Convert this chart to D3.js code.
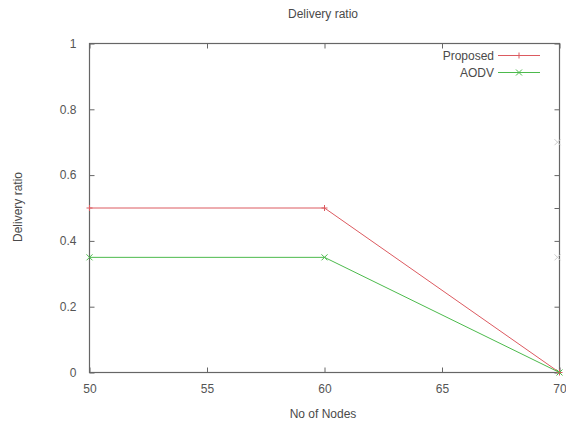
<!DOCTYPE html>
<html>
<head>
<meta charset="utf-8">
<script src="https://cdn.jsdelivr.net/npm/d3@7"></script>
<style>
body { margin: 0; background: #fff; }
text { font-family: "Liberation Sans", Arial, sans-serif; fill: #4a4a4a; }
</style>
</head>
<body>
<div id="chart"></div>
<script>
// data
var nodes = [50, 60, 70];
var proposed = [0.5, 0.5, 0];
var aodv = [0.35, 0.35, 0];
var xTicks = [50, 55, 60, 65, 70];
var yTicks = [0, 0.2, 0.4, 0.6, 0.8, 1];
var rightTicks = [0, 0.2, 0.4, 0.5, 0.6, 0.8, 1];
var rightMarks = [0.7, 0.35];   // faint stray marks on the right border
var seriesNames = ["Proposed", "AODV"];
var seriesColors = ["#dc5a60", "#4cba4c"];

var width = 566, height = 423;
var plotLeft = 89.5, plotRight = 559.5, plotTop = 43.5, plotBottom = 372.5;

var svg = d3.select("#chart").append("svg")
    .attr("width", width)
    .attr("height", height);

var x = d3.scaleLinear().domain([50, 70]).range([plotLeft, plotRight]);
var y = d3.scaleLinear().domain([0, 1]).range([plotBottom, plotTop]);

var axisColor = "#666";

// ticks on all four sides, pointing inward (gnuplot style)
svg.append("g").attr("transform", "translate(0," + plotBottom + ")")
    .call(d3.axisBottom(x).tickValues(xTicks).tickSize(-5).tickPadding(12).tickFormat(d3.format("d")))
    .call(function(g){ g.select(".domain").remove(); });
svg.append("g").attr("transform", "translate(0," + plotTop + ")")
    .call(d3.axisTop(x).tickValues(xTicks).tickSize(-5).tickFormat(""))
    .call(function(g){ g.select(".domain").remove(); });
svg.append("g").attr("transform", "translate(" + plotLeft + ",0)")
    .call(d3.axisLeft(y).tickValues(yTicks).tickSize(-5).tickPadding(13).tickFormat(function(d){ return String(+d.toFixed(1)); }))
    .call(function(g){ g.select(".domain").remove(); });
svg.append("g").attr("transform", "translate(" + plotRight + ",0)")
    .call(d3.axisRight(y).tickValues(rightTicks).tickSize(-5).tickFormat(""))
    .call(function(g){ g.select(".domain").remove(); });

svg.selectAll(".tick line").attr("stroke", axisColor);
svg.selectAll(".tick text").style("font-size", "12px").style("fill", "#555")
    .style("font-family", "'Liberation Sans', Arial, sans-serif");

svg.append("rect")
    .attr("x", plotLeft).attr("y", plotTop)
    .attr("width", plotRight - plotLeft).attr("height", plotBottom - plotTop)
    .attr("fill", "none")
    .attr("stroke", axisColor)
    .attr("stroke-width", 1.2);

var line = d3.line()
    .x(function(d){ return x(d[0]); })
    .y(function(d){ return y(d[1]); });

function marker(i, cx, cy){
    return i === 0
        ? "M" + (cx - 3) + "," + cy + "H" + (cx + 3) + "M" + cx + "," + (cy - 3) + "V" + (cy + 3)
        : "M" + (cx - 3) + "," + (cy - 3) + "L" + (cx + 3) + "," + (cy + 3) + "M" + (cx - 3) + "," + (cy + 3) + "L" + (cx + 3) + "," + (cy - 3);
}

rightMarks.forEach(function(v){
    svg.append("path").attr("d", marker(1, x(70) - 2, y(v)))
        .attr("stroke", "#ccc").attr("stroke-width", 1);
});

var series = [proposed, aodv];
series.forEach(function(vals, i){
    var pts = nodes.map(function(n, j){ return [n, vals[j]]; });
    svg.append("path")
        .attr("d", line(pts))
        .attr("fill", "none")
        .attr("stroke", seriesColors[i])
        .attr("stroke-width", 1);
    pts.forEach(function(p){
        svg.append("path").attr("d", marker(i, x(p[0]), y(p[1])))
            .attr("stroke", seriesColors[i]).attr("stroke-width", 1);
    });
});

// legend
seriesNames.forEach(function(name, i){
    var ly = 55.5 + i * 17;
    svg.append("text")
        .attr("x", 494).attr("y", ly + 4)
        .attr("text-anchor", "end")
        .style("font-size", "12px")
        .text(name);
    svg.append("line")
        .attr("x1", 498).attr("x2", 540)
        .attr("y1", ly).attr("y2", ly)
        .attr("stroke", seriesColors[i]).attr("stroke-width", 1);
    svg.append("path").attr("d", marker(i, 519, ly))
        .attr("stroke", seriesColors[i]).attr("stroke-width", 1);
});

// titles
svg.append("text")
    .attr("x", 323).attr("y", 18)
    .attr("text-anchor", "middle")
    .style("font-size", "12px")
    .text("Delivery ratio");
svg.append("text")
    .attr("x", 323).attr("y", 418)
    .attr("text-anchor", "middle")
    .style("font-size", "12px")
    .text("No of Nodes");
svg.append("text")
    .attr("transform", "translate(22,207) rotate(-90)")
    .attr("text-anchor", "middle")
    .style("font-size", "12px")
    .text("Delivery ratio");
</script>
</body>
</html>
